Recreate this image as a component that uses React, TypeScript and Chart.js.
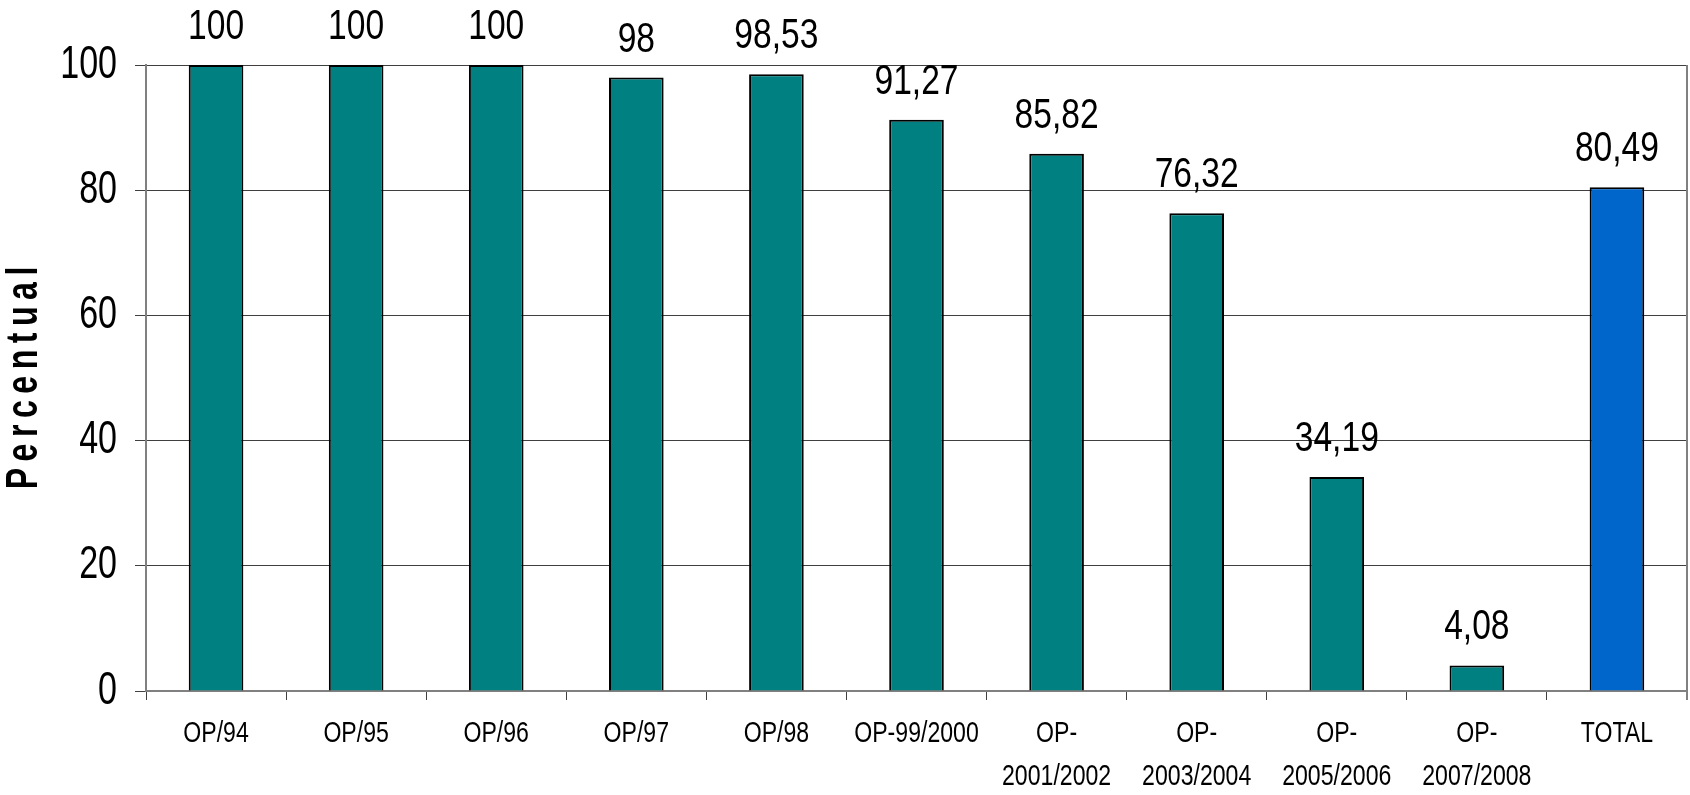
import React, { useEffect, useRef } from 'react';
import { Chart, registerables } from 'chart.js';

Chart.register(...registerables);

const categories: string[][] = [
  ['OP/94'],
  ['OP/95'],
  ['OP/96'],
  ['OP/97'],
  ['OP/98'],
  ['OP-99/2000'],
  ['OP-', '2001/2002'],
  ['OP-', '2003/2004'],
  ['OP-', '2005/2006'],
  ['OP-', '2007/2008'],
  ['TOTAL'],
];
const values = [100, 100, 100, 98, 98.53, 91.27, 85.82, 76.32, 34.19, 4.08, 80.49];
const valueLabels = ['100', '100', '100', '98', '98,53', '91,27', '85,82', '76,32', '34,19', '4,08', '80,49'];
const barColors = [
  '#008080', '#008080', '#008080', '#008080', '#008080', '#008080',
  '#008080', '#008080', '#008080', '#008080', '#0066CC',
];
const yTickValues = [0, 20, 40, 60, 80, 100];
const yTickLabels = ['0', '20', '40', '60', '80', '100'];
const yAxisTitle = 'Percentual';

const FONT = '"Liberation Sans", Arial, sans-serif';

// draw horizontally condensed text (narrow face look)
function condensedText(ctx: CanvasRenderingContext2D, text: string, x: number, y: number, factor: number) {
  const w = ctx.measureText(text).width;
  ctx.fillText(text, x, y, w * factor);
}

export default function App() {
  const ref = useRef<HTMLCanvasElement>(null);

  useEffect(() => {
    const canvas = ref.current;
    if (!canvas) return;

    const labelsPlugin = {
      id: 'labels',
      afterDatasetsDraw(chart: any) {
        const ctx: CanvasRenderingContext2D = chart.ctx;
        const meta = chart.getDatasetMeta(0);
        ctx.save();
        ctx.fillStyle = '#000';

        // value labels above bars
        ctx.font = `42px ${FONT}`;
        ctx.textAlign = 'center';
        ctx.textBaseline = 'alphabetic';
        meta.data.forEach((el: any, i: number) => {
          condensedText(ctx, valueLabels[i], el.x, el.y - 26, 0.8);
        });

        // x category labels
        const xScale = chart.scales.x;
        ctx.font = `30px ${FONT}`;
        ctx.textAlign = 'center';
        ctx.textBaseline = 'middle';
        categories.forEach((lines, i) => {
          const x = xScale.getPixelForTick(i);
          lines.forEach((line, j) => {
            condensedText(ctx, line, x, xScale.top + 43 + j * 43, 0.77);
          });
        });

        // y tick labels
        const yScale = chart.scales.y;
        ctx.font = `46px ${FONT}`;
        ctx.textAlign = 'right';
        ctx.textBaseline = 'middle';
        yTickValues.forEach((v, i) => {
          condensedText(ctx, yTickLabels[i], yScale.right - 29, yScale.getPixelForValue(v), 0.74);
        });
        ctx.restore();
      },
    };

    const framePlugin = {
      id: 'frameAndTitle',
      afterDraw(chart: any) {
        const { ctx, chartArea } = chart;
        ctx.save();
        ctx.strokeStyle = '#808080';
        ctx.lineWidth = 2;
        ctx.beginPath();
        ctx.moveTo(chartArea.right, chartArea.top);
        ctx.lineTo(chartArea.right, chartArea.bottom + 9);
        ctx.stroke();
        ctx.restore();

        // rotated, condensed, letter-spaced axis title
        ctx.save();
        ctx.translate(37, (chartArea.top + chartArea.bottom) / 2);
        ctx.rotate(-Math.PI / 2);
        ctx.scale(0.73, 1);
        ctx.font = `bold 44px ${FONT}`;
        ctx.fillStyle = '#000';
        ctx.textAlign = 'left';
        ctx.textBaseline = 'alphabetic';
        const spacing = 8.9;
        const chars = yAxisTitle.split('');
        const advances = chars.map((c) => ctx.measureText(c).width);
        const total = advances.reduce((a, b) => a + b, 0) + spacing * (chars.length - 1);
        let x = -total / 2;
        chars.forEach((c, i) => {
          ctx.fillText(c, x, 0);
          x += advances[i] + spacing;
        });
        ctx.restore();
      },
    };

    const chart = new Chart(canvas, {
      type: 'bar',
      data: {
        labels: categories.map((l) => l.join(' ')),
        datasets: [
          {
            data: values,
            backgroundColor: barColors,
            borderColor: '#000',
            borderWidth: 2,
            barPercentage: 0.39,
            categoryPercentage: 1,
          },
        ],
      },
      options: {
        animation: false,
        responsive: true,
        maintainAspectRatio: false,
        layout: { padding: { top: 65, right: 3, left: 0, bottom: 0 } },
        plugins: {
          legend: { display: false },
          tooltip: { enabled: false },
        },
        scales: {
          x: {
            grid: {
              offset: true,
              drawOnChartArea: false,
              drawTicks: true,
              tickLength: 9,
              color: '#404040',
              lineWidth: 1,
            },
            border: { color: '#808080', width: 2 },
            ticks: { display: false },
            afterFit: (s: any) => {
              s.height = 104;
            },
          },
          y: {
            min: 0,
            max: 100,
            afterBuildTicks: (s: any) => {
              s.ticks = yTickValues.map((v) => ({ value: v }));
            },
            ticks: { display: false },
            grid: { color: '#404040', tickLength: 11, lineWidth: 1 },
            border: { color: '#808080', width: 2 },
            afterFit: (s: any) => {
              s.width = 146;
            },
          },
        },
      },
      plugins: [labelsPlugin, framePlugin],
    });

    return () => chart.destroy();
  }, []);

  return (
    <div style={{ position: 'fixed', left: 0, top: 0, width: 1690, height: 795, background: '#fff' }}>
      <canvas ref={ref} />
    </div>
  );
}
